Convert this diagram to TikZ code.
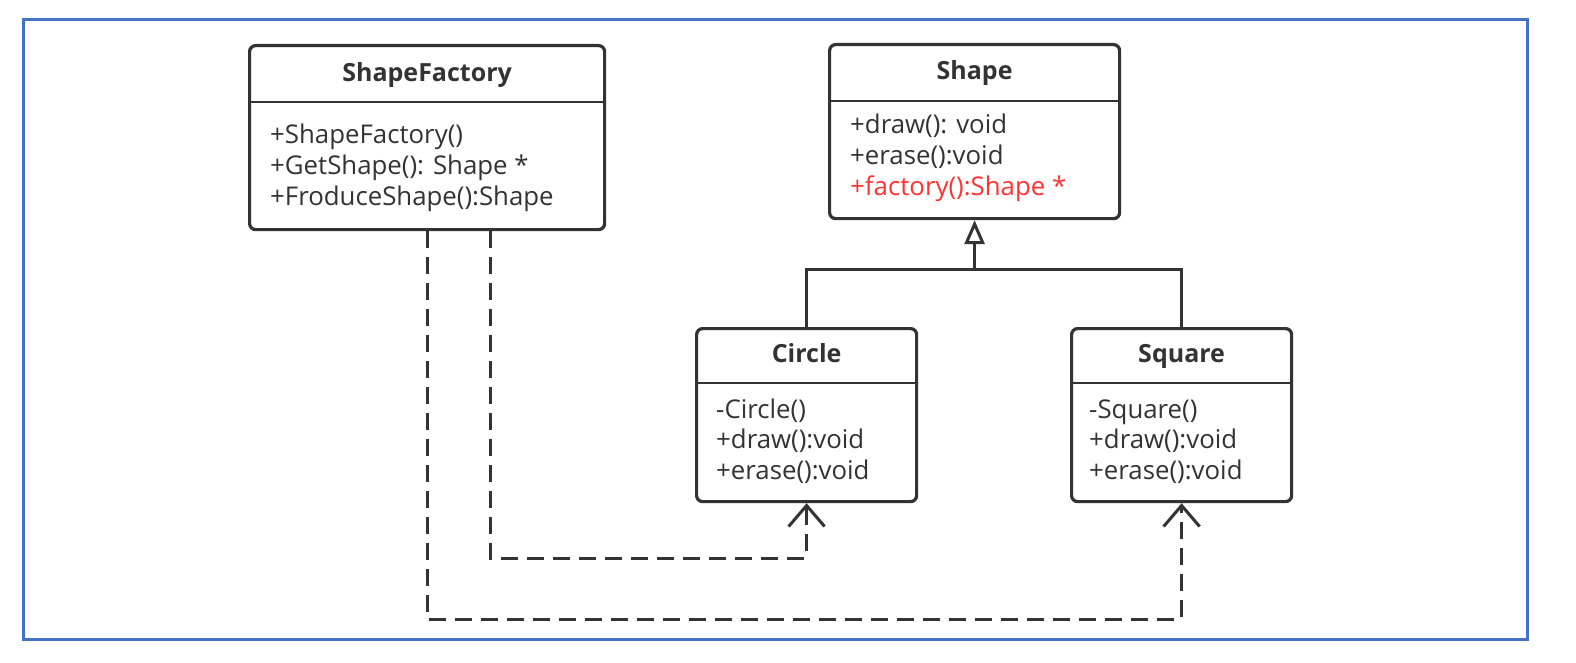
\documentclass[tikz,border=0pt]{standalone}
\usepackage{fontspec}
\setmainfont{Open Sans}
\usetikzlibrary{arrows.meta}
\definecolor{ink}{HTML}{333333}
\definecolor{frame}{HTML}{4472C4}
\definecolor{hl}{HTML}{FF3333}
\tikzset{
  umlbox/.style={draw=ink, line width=3.2pt, rounded corners=6pt, fill=white, anchor=north west, inner sep=0pt},
  divider/.style={draw=ink, line width=2.8pt},
  titletext/.style={font=\fontsize{25}{30}\selectfont\bfseries, text=ink, anchor=base, inner sep=0pt},
  membertext/.style={font=\fontsize{25.8}{30}\selectfont, text=ink, anchor=base west, inner sep=0pt},
  dep/.style={draw=ink, line width=3pt, dash pattern=on 17pt off 9pt, -{Straight Barb[length=21pt,width=36pt,line width=3pt]}},
  inh/.style={draw=ink, line width=3pt},
  inharrow/.style={draw=ink, line width=3pt, -{Triangle[open,length=24pt,width=20pt,line width=3pt]}},
}
\begin{document}
\begin{tikzpicture}[x=1pt,y=-1pt]
\useasboundingbox (0,0) rectangle (1576,663);
\draw[frame, line width=3pt] (23,20) rectangle (1527,639);

% ShapeFactory
\node[umlbox, minimum width=355pt, minimum height=184pt] (sf) at (248,44) {};
\draw[divider] (sf.west |- 0,102) -- (sf.east |- 0,102);
\node[titletext] (sft) at (sf.north |- 0,82) {ShapeFactory};
\node[membertext] (sf1) at (270,144) {+ShapeFactory()};
\node[membertext] (sf2) at (270,174.5) {+GetShape(): Shape *};
\node[membertext] (sf3) at (270,205) {+FroduceShape():Shape};

% Shape
\node[umlbox, minimum width=290pt, minimum height=174pt] (sh) at (828,43) {};
\draw[divider] (sh.west |- 0,101) -- (sh.east |- 0,101);
\node[titletext] (sht) at (sh.north |- 0,80) {Shape};
\node[membertext] (sh1) at (850,134) {+draw(): void};
\node[membertext] (sh2) at (850,165) {+erase():void};
\node[membertext, text=hl] (sh3) at (850,196) {+factory():Shape *};

% Circle
\node[umlbox, minimum width=220pt, minimum height=173pt] (ci) at (695,327) {};
\draw[divider] (ci.west |- 0,383) -- (ci.east |- 0,383);
\node[titletext] (cit) at (ci.north |- 0,362) {Circle};
\node[membertext] (ci1) at (716,418) {-Circle()};
\node[membertext] (ci2) at (716,448.5) {+draw():void};
\node[membertext] (ci3) at (716,479) {+erase():void};

% Square
\node[umlbox, minimum width=220pt, minimum height=173pt] (sq) at (1070,327) {};
\draw[divider] (sq.west |- 0,383) -- (sq.east |- 0,383);
\node[titletext] (sqt) at (sq.north |- 0,362) {Square};
\node[membertext] (sq1) at (1089,418) {-Square()};
\node[membertext] (sq2) at (1089,448.5) {+draw():void};
\node[membertext] (sq3) at (1089,479) {+erase():void};

% inheritance
\coordinate (j) at (sh.south |- 0,269);
\draw[inh] (ci.north) |- (j) -| (sq.north);
\draw[inharrow] (j) -- (sh.south);

% dependencies
\coordinate (k1) at ([xshift=63pt]sf.south |- 0,558);
\coordinate (k2) at (sf.south |- 0,619);
\draw[dep] ([xshift=63pt]sf.south) -- (k1) -| (ci.south);
\draw[dep] (sf.south) -- (k2) -| (sq.south);
\end{tikzpicture}
\end{document}
